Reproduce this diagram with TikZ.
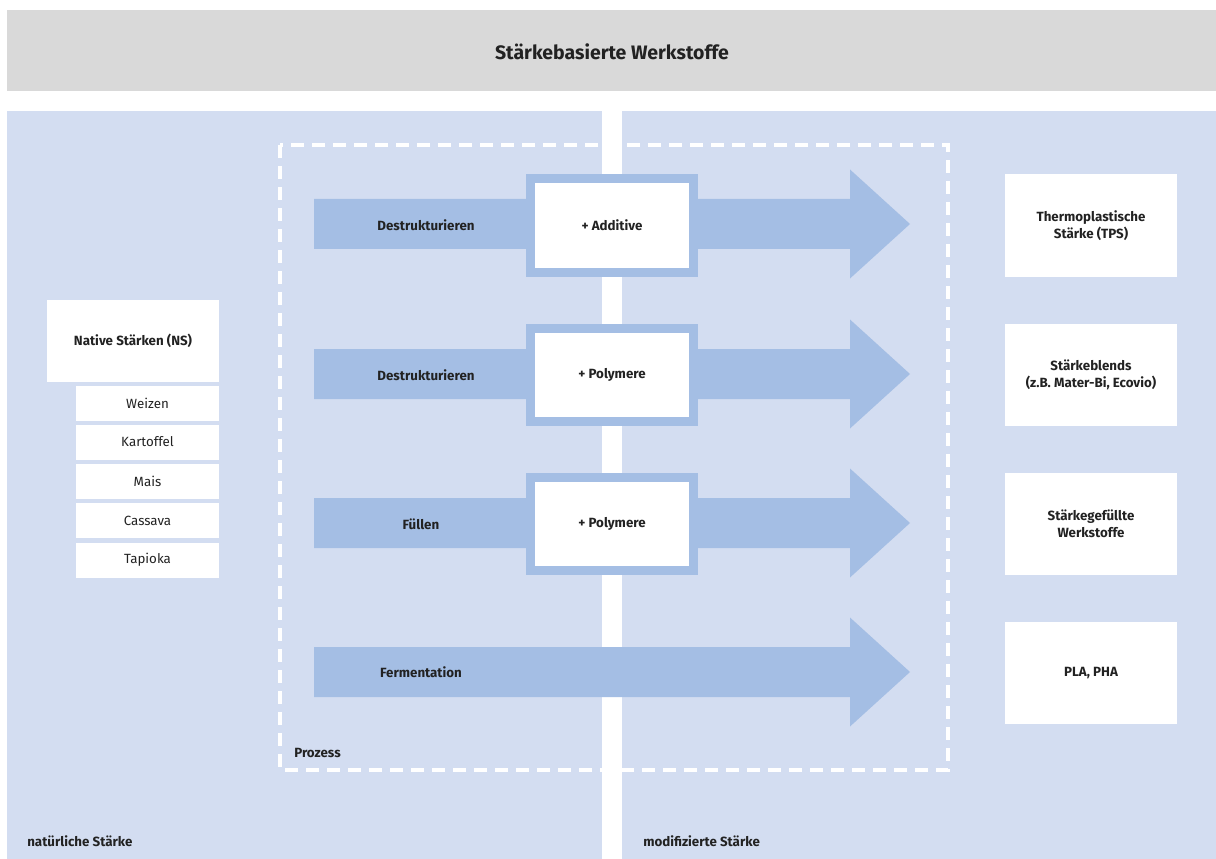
\documentclass[tikz,border=0pt]{standalone}
\usepackage{fontspec}
\setmainfont{Fira Sans}
\definecolor{panel}{HTML}{D3DDF1}
\definecolor{arrowc}{HTML}{A4BEE4}
\definecolor{titlebg}{HTML}{D9D9D9}
\definecolor{txt}{HTML}{222222}
\begin{document}
\begin{tikzpicture}[x=0.75pt,y=-0.75pt,
  lbl/.style={text=txt,font=\fontsize{10}{12.75}\selectfont\bfseries,inner sep=0pt},
  titletext/.style={text=txt,font=\fontsize{14.6}{16}\selectfont\bfseries,inner sep=0pt},
  procbox/.style={fill=white,draw=arrowc,line width=6.75pt,minimum width=122.25pt,minimum height=69.75pt,inner sep=0pt,text=txt,font=\fontsize{10}{12.75}\selectfont\bfseries},
  resbox/.style={fill=white,minimum width=129pt,minimum height=76.5pt,inner sep=0pt,align=center,text=txt,font=\fontsize{10}{12.75}\selectfont\bfseries},
  nsbox/.style={fill=white,minimum width=129pt,minimum height=61.5pt,inner sep=0pt,text=txt,font=\fontsize{10}{12.75}\selectfont\bfseries},
  subbox/.style={fill=white,minimum width=107.25pt,minimum height=26.25pt,inner sep=0pt,text=txt,font=\fontsize{10}{12.75}\selectfont}
]
\useasboundingbox (0,0) rectangle (1216,859);
\fill[white] (0,0) rectangle (1216,859);
% title
\fill[titlebg] (7,10) rectangle (1216,91);
\node[titletext] (title) at (612,51.5) {Stärkebasierte Werkstoffe};
% panels
\fill[panel] (7,111) rectangle (602,859);
\fill[panel] (622,111) rectangle (1216,859);
% process frame
\draw[white,line width=3pt,dash pattern=on 9.75pt off 6pt] (280,145) rectangle (948,770);
\node[lbl,anchor=west] (prozess) at (294,753) {Prozess};
% arrows
\foreach \c in {224,374,523,672}{
  \fill[arrowc] (314,\c-25) -- (850,\c-25) -- (850,\c-54.5) -- (910,\c) -- (850,\c+54.5) -- (850,\c+25) -- (314,\c+25) -- cycle;
}
% process boxes
\node[procbox] (p1) at (612,225.5) {+ Additive};
\node[procbox] (p2) at (612,375) {+ Polymere};
\node[procbox] (p3) at (612,524) {+ Polymere};
% arrow labels
\node[lbl] (a1) at (426,225.5) {Destrukturieren};
\node[lbl] (a2) at (426,375.5) {Destrukturieren};
\node[lbl] (a3) at (421,524.5) {Füllen};
\node[lbl] (a4) at (421,672.5) {Fermentation};
% result boxes
\node[resbox] (r1) at (1091,225.5) {Thermoplastische\\Stärke (TPS)};
\node[resbox] (r2) at (1091,375) {Stärkeblends\\(z.B. Mater-Bi, Ecovio)};
\node[resbox] (r3) at (1091,524) {Stärkegefüllte\\Werkstoffe};
\node[resbox] (r4) at (1091,673) {PLA, PHA};
% native starches
\node[nsbox] (ns) at (133,340.5) {Native Stärken (NS)};
\node[subbox] (s1) at (147.5,403) {Weizen};
\node[subbox] (s2) at (147.5,442) {Kartoffel};
\node[subbox] (s3) at (147.5,481.5) {Mais};
\node[subbox] (s4) at (147.5,520.5) {Cassava};
\node[subbox] (s5) at (147.5,560) {Tapioka};
% panel labels
\node[lbl,anchor=west] (nat) at (27,841) {natürliche Stärke};
\node[lbl,anchor=west] (mod) at (643,841) {modifizierte Stärke};
\end{tikzpicture}
\end{document}
